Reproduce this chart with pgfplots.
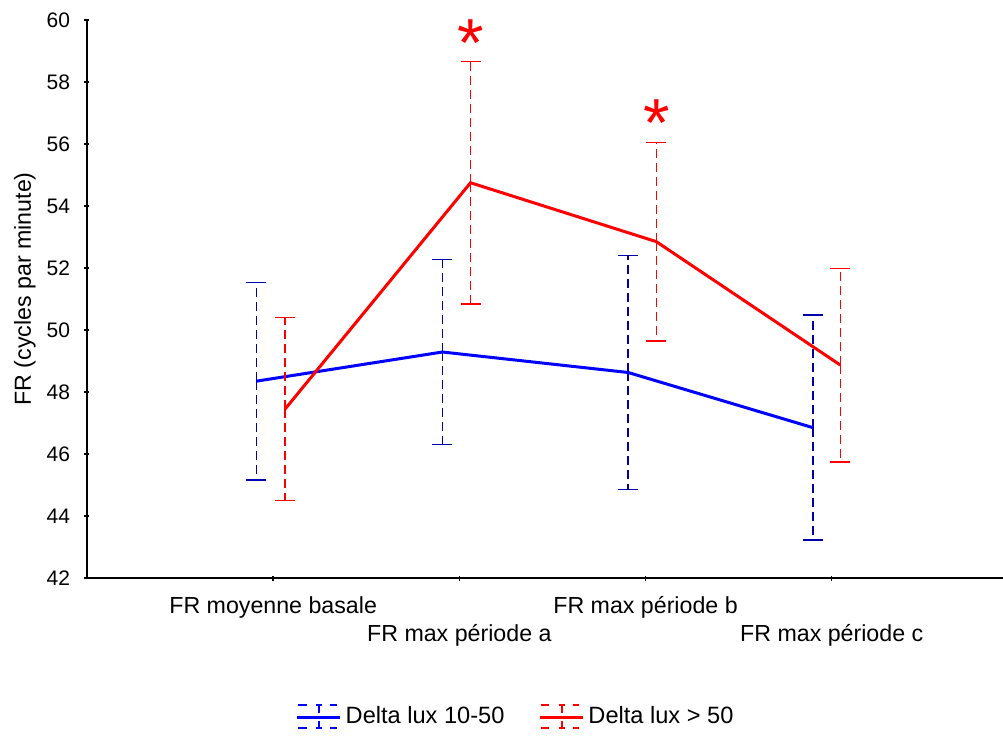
\documentclass[border=0pt]{standalone}
\usepackage{pgfplots}
\pgfplotsset{compat=1.18}
\usepackage{fontspec}
\setmainfont{Liberation Sans}
\definecolor{lblue}{RGB}{0,0,255}
\definecolor{ebblue}{RGB}{0,0,170}
\definecolor{lred}{RGB}{255,0,0}
\pgfplotsset{errleg/.style={legend image code/.code={
  \draw[line width=1.5pt] (0pt,0pt) -- (21.5pt,0pt);
  \draw[line width=0.75pt] (0.5pt,6pt) -- (4.7pt,6pt) (16.3pt,6pt) -- (19.7pt,6pt)
     (0.5pt,-5.5pt) -- (4.7pt,-5.5pt) (16.3pt,-5.5pt) -- (19.7pt,-5.5pt);
  \draw[line width=0.75pt] (9.5pt,6pt) -- (12.5pt,6pt) (9.5pt,-5.5pt) -- (12.5pt,-5.5pt)
     (11pt,6pt) -- (11pt,2pt) (11pt,-2pt) -- (11pt,-5.5pt);
}}}
\begin{document}
\fontsize{10.5}{16}\selectfont
\begin{tikzpicture}
\useasboundingbox (-43.5pt,-78.5pt) rectangle (458pt,289pt);
\begin{axis}[
  scale only axis, width=458pt, height=279pt,
  xmin=0, xmax=4.92, ymin=42, ymax=60,
  axis lines=left, axis line style={-, black, line width=0.75pt},
  xtick={1,2,3,4}, ytick={42,44,...,60},
  major tick length=2.5pt, tick style={black, line width=0.75pt},
  /pgf/number format/assume math mode=true,
  yticklabel style={xshift=-3.5pt},
  xticklabels={{\strut FR moyenne basale},{\strut\\\strut FR max période a},{\strut FR max période b},{\strut\\\strut FR max période c}},
  xticklabel style={align=center, yshift=-3.1pt, font=\fontsize{11.6}{14}\selectfont},
  ylabel={FR (cycles par minute)},
  ylabel style={at={(axis description cs:-0.0677,0.518)}, anchor=center, font=\fontsize{11.6}{14}\selectfont},
  legend style={at={(axis description cs:0.469,0)}, anchor=center, yshift=-69.5pt,
    draw=none, fill=none, legend columns=2,
    /tikz/every even column/.append style={column sep=15pt},
    font=\fontsize{11.8}{13}\selectfont},
  legend cell align=left,
]
\addlegendimage{errleg, lblue}
\addlegendentry{Delta lux 10-50}
\addlegendimage{errleg, lred}
\addlegendentry{Delta lux > 50}

% blue error bars
\addplot[draw=none, mark=none, forget plot,
  error bars/.cd, y dir=both, y explicit,
  error bar style={draw=ebblue, line width=0.75pt, dash pattern=on 4.5pt off 2.5pt},
  error mark options={draw=ebblue, line width=0.75pt, solid, mark size=5pt, rotate=90}]
  coordinates {(0.91,48.35) +- (0,3.19) (1.909,49.29) +- (0,2.98) (2.906,48.63) +- (0,3.78) (3.899,46.85) +- (0,3.63)};
\addplot[lblue, line width=1.5pt, mark=none, forget plot]
  coordinates {(0.91,48.35) (1.909,49.29) (2.906,48.63) (3.899,46.85)};
% red error bars
\addplot[draw=none, mark=none, forget plot,
  error bars/.cd, y dir=both, y explicit,
  error bar style={draw=lred, line width=0.75pt, dash pattern=on 4.5pt off 2.5pt},
  error mark options={draw=lred, line width=0.75pt, solid, mark size=5pt, rotate=90}]
  coordinates {(1.064,47.45) +- (0,2.95) (2.06,54.75) +- (0,3.91) (3.058,52.85) +- (0,3.2) (4.046,48.87) +- (0,3.12)};
\addplot[lred, line width=1.5pt, mark=none, forget plot]
  coordinates {(1.064,47.45) (2.06,54.75) (3.058,52.85) (4.046,48.87)};
% asterisks
\addplot[draw=none, mark=none, forget plot, nodes near coords={*},
  every node near coord/.append style={lred, anchor=center, font=\fontsize{34}{34}\selectfont, yshift=-5.5pt}]
  coordinates {(2.06,59.61) (3.058,57.04)};
\end{axis}
\end{tikzpicture}
\end{document}
